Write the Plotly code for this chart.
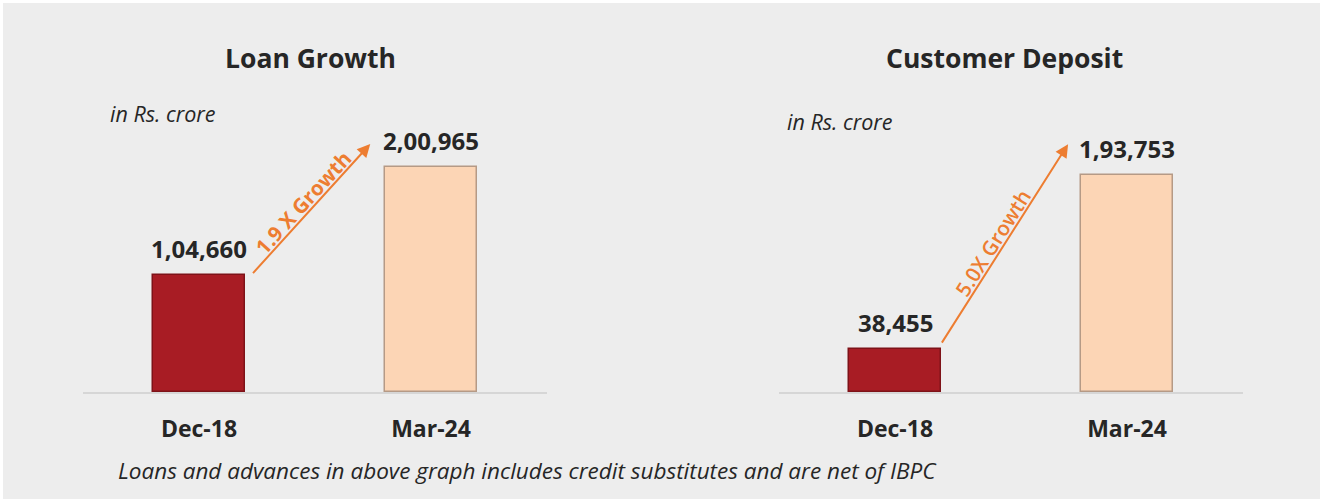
import plotly.graph_objects as go

# ---- data ----
categories = ["Dec-18", "Mar-24"]
loan_values = [104660, 200965]
deposit_values = [38455, 193753]
loan_growth_label = "1.9 X Growth"
deposit_growth_label = "5.0X Growth"
titles = ["Loan Growth", "Customer Deposit"]
unit_label = "in Rs. crore"
footnote = "Loans and advances in above graph includes credit substitutes and are net of IBPC"

W, H = 1323, 502
FONT = "Open Sans"
TXT = "#262626"
ORANGE = "#ED7D31"
bar_colors = ["#A81C24", "#FCD5B5"]
bar_lines = ["#7E1218", "#B59A86"]


def indian(n):
    s = str(int(n))
    if len(s) <= 3:
        return s
    last3 = s[-3:]
    rest = s[:-3]
    groups = []
    while len(rest) > 2:
        groups.insert(0, rest[-2:])
        rest = rest[:-2]
    if rest:
        groups.insert(0, rest)
    return ",".join(groups + [last3])


def px(x):
    return x / W


def py(y):
    return 1 - y / H


fig = go.Figure()

for i, (vals, xa, ya) in enumerate([(loan_values, "x", "y"), (deposit_values, "x2", "y2")]):
    fig.add_trace(go.Bar(
        x=categories, y=vals, xaxis=xa, yaxis=ya, width=0.4,
        marker=dict(color=bar_colors, line=dict(color=bar_lines, width=1.5)),
        showlegend=False, hoverinfo="skip",
    ))

# y scale: baseline at pixel 392, top of plot at pixel 100
y_bot, y_top = 392, 100
scale = 0.001122  # px per unit
y_range = [0, (y_bot - y_top) / scale]

xaxis_common = dict(
    type="category", range=[-0.5, 1.5], showgrid=False, zeroline=False,
    showline=True, linecolor="#D6D6D6", linewidth=1.5, ticks="",
    tickfont=dict(family=FONT, size=23, color=TXT, weight="bold"),
    ticklabelstandoff=16,
)
yaxis_common = dict(range=y_range, visible=False, showgrid=False, zeroline=False)

fig.update_layout(
    width=W, height=H,
    margin=dict(l=0, r=0, t=0, b=0),
    paper_bgcolor="white", plot_bgcolor="rgba(0,0,0,0)",
    bargap=0,
    xaxis=dict(domain=[px(83), px(547)], anchor="y", **xaxis_common),
    xaxis2=dict(domain=[px(779), px(1243)], anchor="y2", **xaxis_common),
    yaxis=dict(domain=[py(y_bot), py(y_top)], anchor="x", **yaxis_common),
    yaxis2=dict(domain=[py(y_bot), py(y_top)], anchor="x2", **yaxis_common),
    shapes=[dict(type="rect", xref="paper", yref="paper", x0=px(3), x1=px(1320),
                 y0=py(499), y1=py(3), fillcolor="#EDEDED", line=dict(width=0), layer="below")],
)

ann = []
# value labels
for vals, xr, yr in [(loan_values, "x", "y"), (deposit_values, "x2", "y2")]:
    for c, v in zip(categories, vals):
        ann.append(dict(x=c, y=v, xref=xr, yref=yr, text=indian(v), showarrow=False,
                        yanchor="bottom", yshift=8,
                        font=dict(family=FONT, size=24, color=TXT, weight="bold")))

# growth arrows (data coords, relative to category indices)
arrows = [
    ("x", "y", (0.227, loan_values[0]), (0.738, loan_values[1] * 1.10),
     loan_growth_label, (0.45, 169000), -47.7, "bold"),
    ("x2", "y2", (0.198, deposit_values[0] * 1.11), (0.746, deposit_values[1] * 1.14),
     deposit_growth_label, (0.42, 133000), -57.6, 600),
]
for xr, yr, tail, head, label, tpos, ang, wt in arrows:
    ann.append(dict(x=head[0], y=head[1], ax=tail[0], ay=tail[1], xref=xr, yref=yr,
                    axref=xr, ayref=yr, showarrow=True, arrowhead=2, arrowsize=1.3,
                    arrowwidth=2, arrowcolor=ORANGE, text=""))
    ann.append(dict(x=tpos[0], y=tpos[1], xref=xr, yref=yr, text=label, showarrow=False,
                    textangle=ang, font=dict(family=FONT, size=20.5, color=ORANGE, weight=wt)))

# titles
for t, cx in zip(titles, [310, 1004]):
    ann.append(dict(x=px(cx), y=py(58), xref="paper", yref="paper", text=t, showarrow=False,
                    xanchor="center", yanchor="middle",
                    font=dict(family=FONT, size=26.5, color=TXT, weight="bold")))
# unit labels
for lx, ly in [(108, 113), (785, 121)]:
    ann.append(dict(x=px(lx), y=py(ly), xref="paper", yref="paper", text=unit_label,
                    showarrow=False, xanchor="left", yanchor="middle",
                    font=dict(family=FONT, size=21.5, color=TXT, style="italic")))
# footnote
ann.append(dict(x=px(527), y=py(470), xref="paper", yref="paper", text=footnote,
                showarrow=False, xanchor="center", yanchor="middle",
                font=dict(family=FONT, size=22.5, color=TXT, style="italic")))

fig.update_layout(annotations=ann)
fig.write_html("out.html", config={"displayModeBar": False},
               post_script="document.body.style.margin='0px';")
